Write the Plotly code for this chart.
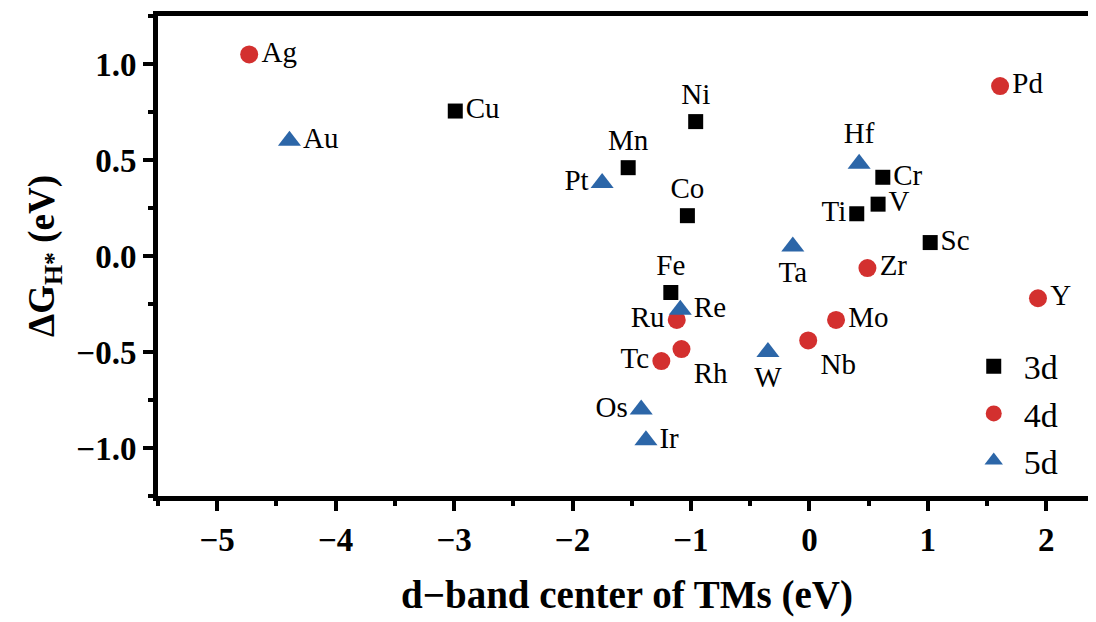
import plotly.graph_objects as go

# 3d metals
names_3d = ["Cu", "Ni", "Mn", "Co", "Cr", "V", "Ti", "Sc", "Fe"]
x_3d = [-2.99, -0.96, -1.53, -1.03, 0.62, 0.58, 0.40, 1.02, -1.17]
y_3d = [0.755, 0.70, 0.46, 0.21, 0.41, 0.27, 0.22, 0.07, -0.19]
pos_3d = ["middle right", "top center", "top center", "top center", "middle right",
          "middle right", "middle left", "middle right", "top center"]

# 4d metals
names_4d = ["Ag", "Pd", "Zr", "Y", "Mo", "Nb", "Ru", "Rh", "Tc"]
x_4d = [-4.73, 1.61, 0.49, 1.93, 0.225, -0.01, -1.12, -1.08, -1.25]
y_4d = [1.05, 0.885, -0.063, -0.22, -0.333, -0.44, -0.333, -0.485, -0.547]
pos_4d = ["middle right", "middle right", "middle right", "middle right", "middle right",
          "bottom right", "middle left", "bottom right", "middle left"]

# 5d metals
names_5d = ["Au", "Pt", "Hf", "Ta", "Re", "W", "Os", "Ir"]
x_5d = [-4.39, -1.75, 0.42, -0.14, -1.09, -0.35, -1.42, -1.38]
y_5d = [0.60, 0.38, 0.48, 0.05, -0.28, -0.50, -0.80, -0.96]
pos_5d = ["middle right", "middle left", "top center", "bottom center", "middle right",
          "bottom center", "middle left", "middle right"]

# tick labels
xtick_vals = [-5, -4, -3, -2, -1, 0, 1, 2]
xtick_text = ["\u22125", "\u22124", "\u22123", "\u22122", "\u22121", "0", "1", "2"]
ytick_vals = [-1.0, -0.5, 0.0, 0.5, 1.0]
ytick_text = ["\u22121.0", "\u22120.5", "0.0", "0.5", "1.0"]

FONT = "Liberation Serif"
label_font = dict(family=FONT, size=29, color="black")

fig = go.Figure()
fig.add_trace(go.Scatter(x=x_3d, y=y_3d, mode="markers+text", text=names_3d,
                         textposition=pos_3d, textfont=label_font, name="3d",
                         marker=dict(symbol="square", size=15, color="black")))
fig.add_trace(go.Scatter(x=x_4d, y=y_4d, mode="markers+text", text=names_4d,
                         textposition=pos_4d, textfont=label_font, name="4d",
                         marker=dict(symbol="circle", size=18, color="#D3302F")))
fig.add_trace(go.Scatter(x=x_5d, y=y_5d, mode="markers+text", text=names_5d,
                         textposition=pos_5d, textfont=label_font, name="5d",
                         marker=dict(symbol="triangle-up", size=20, color="#2C66A8")))

tick_font = dict(family=FONT, size=33, color="black")

fig.update_layout(
    width=1088, height=614,
    font=dict(family=FONT, color="black"),
    margin=dict(l=150, r=0, t=8, b=126),
    paper_bgcolor="white", plot_bgcolor="white",
    xaxis=dict(range=[-5.5, 2.42], tickmode="array",
               tickvals=xtick_vals, ticktext=["<b>%s</b>" % t for t in xtick_text],
               showline=True, linecolor="black", linewidth=5, mirror=True,
               ticks="outside", ticklen=10, tickwidth=4, tickcolor="black",
               showgrid=False, zeroline=False, tickfont=tick_font,
               minor=dict(dtick=0.5, ticks="outside", ticklen=5, tickwidth=4, tickcolor="black"),
               title=dict(text="<b>d\u2212band center of TMs (eV)</b>", standoff=26,
                          font=dict(family=FONT, size=39, color="black"))),
    yaxis=dict(range=[-1.25, 1.25], tickmode="array",
               tickvals=ytick_vals, ticktext=["<b>%s</b>" % t for t in ytick_text],
               showline=True, linecolor="black", linewidth=5, mirror=False,
               ticks="outside", ticklen=10, tickwidth=4, tickcolor="black",
               showgrid=False, zeroline=False, tickfont=tick_font,
               minor=dict(dtick=0.25, ticks="outside", ticklen=5, tickwidth=4, tickcolor="black"),
               title=dict(text="<b>\u0394G<sub>H*</sub> (eV)</b>", standoff=12,
                          font=dict(family=FONT, size=37, color="black"))),
    legend=dict(x=0.859, y=0.33, xanchor="left", yanchor="top",
                bgcolor="rgba(0,0,0,0)", borderwidth=0, itemwidth=50,
                font=dict(family=FONT, size=34, color="black")),
)

fig.write_html("out.html")
